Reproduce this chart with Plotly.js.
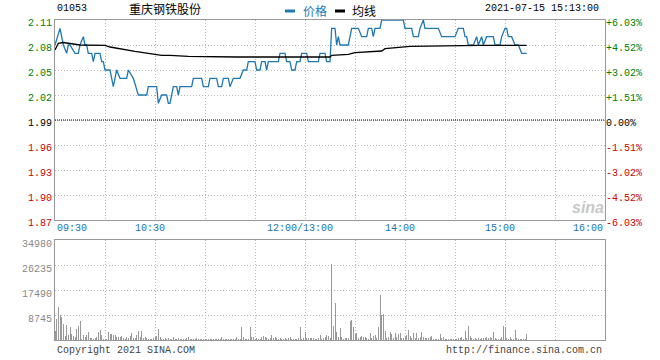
<!DOCTYPE html>
<html><head><meta charset="utf-8">
<script src="https://cdn.plot.ly/plotly-3.0.1.min.js"></script>
<style>html,body{margin:0;padding:0;background:#fff}#chart{width:660px;height:360px}</style>
</head><body><div id="chart"></div>
<script>
const stockCode = '01053';
const stockName = '重庆钢铁股份';
const stamp = '2021-07-15 15:13:00';
const prevClose = 1.99;
const legendNames = ['价格', '均线'];

const priceTimes = ['09:30','09:33','09:35','09:37','09:38','09:39','09:42','09:44','09:45','09:47','09:48','09:49','09:50','09:52','09:53','09:54','09:57','09:58','09:59','10:00','10:03','10:05','10:07','10:09','10:13','10:14','10:17','10:20','10:25','10:26','10:31','10:32','10:34','10:37','10:38','10:39','10:41','10:43','10:44','10:45','10:52','10:53','10:58','10:59','11:02','11:03','11:07','11:08','11:10','11:11','11:14','11:15','11:17','11:21','11:23','11:25','11:26','11:30','11:31','11:33','11:34','11:36','11:37','11:38','11:44','11:45','11:48','11:49','11:51','11:52','11:54','11:55','11:57','11:58','13:01','13:02','13:08','13:09','13:12','13:13','13:15','13:16','13:18','13:19','13:20','13:21','13:26','13:28','13:32','13:34','13:37','13:38','13:40','13:41','13:42','13:45','13:46','13:59','14:00','14:04','14:05','14:08','14:09','14:11','14:12','14:20','14:22','14:30','14:32','14:35','14:36','14:37','14:38','14:41','14:43','14:44','14:46','14:47','14:49','14:53','14:54','14:57','14:58','15:00','15:01','15:02','15:04','15:06','15:08','15:10','15:13'];
const priceValues = [2.08,2.10,2.08,2.07,2.08,2.08,2.07,2.07,2.08,2.09,2.08,2.08,2.07,2.07,2.06,2.07,2.07,2.06,2.06,2.05,2.05,2.03,2.05,2.04,2.04,2.05,2.04,2.02,2.02,2.03,2.03,2.01,2.02,2.02,2.01,2.01,2.03,2.03,2.02,2.03,2.03,2.04,2.04,2.03,2.03,2.04,2.04,2.03,2.03,2.04,2.04,2.03,2.04,2.04,2.05,2.05,2.06,2.06,2.05,2.05,2.06,2.06,2.05,2.06,2.06,2.07,2.07,2.06,2.06,2.05,2.05,2.06,2.06,2.07,2.07,2.06,2.06,2.07,2.07,2.06,2.06,2.10,2.10,2.08,2.09,2.08,2.08,2.10,2.10,2.09,2.09,2.10,2.10,2.09,2.10,2.10,2.11,2.11,2.10,2.10,2.09,2.09,2.10,2.11,2.10,2.10,2.09,2.09,2.10,2.10,2.09,2.09,2.08,2.08,2.09,2.08,2.09,2.08,2.09,2.09,2.08,2.08,2.09,2.10,2.10,2.09,2.09,2.08,2.08,2.07,2.07];

const avgTimes = ['09:30','09:32','09:35','09:45','10:00','10:03','10:18','10:31','10:34','10:39','10:50','11:19','11:39','11:40','13:15','13:16','13:26','13:30','13:46','13:48','14:00','14:03','14:45','15:13'];
const avgValues = [2.074,2.082,2.083,2.080,2.0796,2.0776,2.0724,2.0688,2.0676,2.0676,2.0664,2.0656,2.0656,2.0648,2.0656,2.0676,2.0688,2.0708,2.0728,2.0756,2.0776,2.0784,2.0796,2.0796];

// one volume bar per trading minute starting 09:30 (afternoon continues at 13:00)
const volumes = [
3000,7350,11660,8745,8160,5600,1400,5250,1750,4430,
2100,1400,930,3730,4900,6650,230,1750,1170,1630,
2800,580,580,230,580,1170,2800,3500,1750,470,
230,470,2680,2100,2100,1750,1750,1170,930,930,
1400,580,230,1170,580,1400,2330,820,580,1630,
3260,930,3030,820,930,580,230,350,350,580,
1170,1400,3730,1170,500,300,800,400,600,300,
500,900,300,400,700,300,500,400,200,600,
1170,300,200,500,400,600,300,200,400,300,
200,300,200,200,300,200,400,300,200,300,
930,350,200,300,400,300,200,500,300,1170,
350,470,4660,930,350,470,350,4660,1170,930,
470,700,350,470,1170,1400,1170,580,470,580,
1750,580,930,700,470,580,350,470,700,350,
580,1170,470,350,470,350,580,4660,470,820,
2900,820,820,820,580,580,350,350,580,1750,
350,580,1170,1750,1400,580,26470,4900,12830,2680,
1170,4080,930,350,820,820,820,6650,7000,4660,
2100,2330,580,1170,1520,930,1050,580,350,2330,
820,1400,1750,580,4660,15740,8745,9100,3150,580,
1170,2680,2100,820,2450,1170,1980,2330,580,580,
1400,1750,3500,1400,580,2450,820,2450,820,1170,
2800,1170,820,580,580,1170,1400,350,350,350,
350,2100,580,1050,350,350,350,350,350,350,
350,350,820,580,1170,350,3150,580,5000,1400,
580,350,820,350,580,350,820,580,820,1170,
580,1170,580,2680,580,350,350,350,1170,4900,
4660,580,350,1050,350,350,3500,580,350,350,
350,350,350,2100];

const priceTicks = [2.11,2.08,2.05,2.02,1.99,1.96,1.93,1.90,1.87];
const priceTickLabels = ['2.11','2.08','2.05','2.02','1.99','1.96','1.93','1.90','1.87'];
const pctTickLabels = ['+6.03%','+4.52%','+3.02%','+1.51%','0.00%','-1.51%','-3.02%','-4.52%','-6.03%'];
const volTicks = [8745,17490,26235,34980];
const volTickLabels = ['8745','17490','26235','34980'];
const timeLabels = ['09:30','10:30','12:00/13:00','14:00','15:00','16:00'];
const timeLabelAt = ['09:30','10:30','13:00','14:00','15:00','16:00'];
const sessionOpen = '09:30', sessionEnd = '16:00';

function toMinute(t){
  const [h,m] = t.split(':').map(Number);
  const v = h*60+m;
  return v >= 780 ? 150 + (v-780) : v - 570;
}
const GREEN='#008000', RED='#cc0000', BLACK='#000000';
function colorFor(p){ return Math.abs(p-prevClose)<1e-9 ? BLACK : (p>prevClose ? GREEN : RED); }
const pct = p => (p/prevClose-1)*100;

const xMin = toMinute(sessionOpen), xMax = toMinute(sessionEnd);
const px = priceTimes.map(toMinute);
const ax = avgTimes.map(toMinute);
const vx = volumes.map((v,i)=>i);

const mono = 'Liberation Mono, DejaVu Sans Mono, monospace';
const cjk = 'Noto Sans CJK SC, sans-serif';

const traces = [
  {x:px, y:priceValues, type:'scatter', mode:'lines', line:{color:'#1f78b4', width:1.3}, xaxis:'x', yaxis:'y', hoverinfo:'skip'},
  {x:ax, y:avgValues, type:'scatter', mode:'lines', line:{color:'#000', width:1.3}, xaxis:'x', yaxis:'y', hoverinfo:'skip'},
  {x:px, y:priceValues.map(pct), type:'scatter', mode:'lines', line:{color:'rgba(0,0,0,0)', width:0}, xaxis:'x', yaxis:'y2', hoverinfo:'skip'},
  {x:vx, y:volumes, type:'bar', width:0.6, marker:{color:'#999', line:{width:0}}, xaxis:'x2', yaxis:'y3', hoverinfo:'skip'}
];

const gridDash = '1px,2px';
const xCommon = {range:[xMin,xMax], tick0:0, dtick:30, showgrid:true, gridcolor:'#b8b8b8', griddash:gridDash, gridwidth:1,
  showticklabels:false, ticks:'', showline:true, mirror:true, linecolor:'#999', linewidth:1, zeroline:false, fixedrange:true};

const annotations = [];
timeLabels.forEach((t,i)=>{
  const last = i===timeLabels.length-1, first = i===0;
  annotations.push({xref:'x', yref:'y domain', x:toMinute(timeLabelAt[i]), y:0, yanchor:'top', yshift:-1,
    xanchor: first?'left':(last?'right':'center'), xshift: (first||last)?0:-5,
    text:t, showarrow:false, font:{family:mono, size:10, color:'#1b74ad'}});
});
annotations.push({xref:'paper', yref:'paper', x:0, y:(340-9)/320, xanchor:'left', yanchor:'middle', text:stockCode, showarrow:false, font:{family:mono,size:10,color:'#000'}});
annotations.push({xref:'paper', yref:'paper', x:(165-55)/550, y:(340-9)/320, xanchor:'center', yanchor:'middle', text:stockName, showarrow:false, font:{family:cjk,size:12,color:'#000'}});
annotations.push({xref:'paper', yref:'paper', x:(301-55)/550, y:(340-10)/320, xanchor:'left', yanchor:'middle', text:legendNames[0], showarrow:false, font:{family:cjk,size:12,color:'#1f78b4'}});
annotations.push({xref:'paper', yref:'paper', x:(350-55)/550, y:(340-10)/320, xanchor:'left', yanchor:'middle', text:legendNames[1], showarrow:false, font:{family:cjk,size:12,color:'#000'}});
annotations.push({xref:'paper', yref:'paper', x:(601-55)/550, y:(340-9)/320, xanchor:'right', yanchor:'middle', text:stamp, showarrow:false, font:{family:mono,size:10,color:'#000'}});
annotations.push({xref:'paper', yref:'paper', x:0, y:(340-350)/320, xanchor:'left', yanchor:'middle', text:'Copyright 2021 SINA.COM', showarrow:false, font:{family:mono,size:10,color:'#444'}});
annotations.push({xref:'paper', yref:'paper', x:(604-55)/550, y:(340-350)/320, xanchor:'right', yanchor:'middle', text:'http://finance.sina.com.cn', showarrow:false, font:{family:mono,size:10,color:'#444'}});
annotations.push({xref:'paper', yref:'paper', x:(588-55)/550, y:(340-207)/320, xanchor:'center', yanchor:'middle', text:'<b><i>sina</i></b>', showarrow:false, font:{family:'Liberation Sans, sans-serif',size:16,color:'#c8c8c8'}});

const layout = {
  width:660, height:360, margin:{l:55, r:55, t:20, b:20}, paper_bgcolor:'#fff', plot_bgcolor:'#fff', showlegend:false,
  xaxis: Object.assign({}, xCommon, {anchor:'y'}),
  xaxis2: Object.assign({}, xCommon, {anchor:'y3', matches:'x'}),
  yaxis: {domain:[120/320,1], range:[priceTicks[priceTicks.length-1], priceTicks[0]], tickmode:'array', tickvals:priceTicks,
    ticktext: priceTicks.map((p,i)=>`<span style="color:${colorFor(p)}">${priceTickLabels[i]}</span>`),
    showgrid:true, gridcolor:'#b8b8b8', griddash:gridDash, ticks:'', ticklabelshift:2, ticklabelstandoff:0,
    tickfont:{family:mono,size:10}, showline:true, mirror:true, linecolor:'#999', linewidth:1, zeroline:false, fixedrange:true},
  yaxis2: {overlaying:'y', side:'right', anchor:'x', range:[pct(priceTicks[priceTicks.length-1]), pct(priceTicks[0])], tickmode:'array',
    tickvals: priceTicks.map(pct), ticktext: priceTicks.map((p,i)=>`<span style="color:${colorFor(p)}">${pctTickLabels[i]}</span>`),
    showgrid:false, ticks:'', ticklabelshift:2, ticklabelstandoff:0, tickfont:{family:mono,size:10}, zeroline:false, showline:false, fixedrange:true},
  yaxis3: {domain:[0,100/320], range:[0, volTicks[volTicks.length-1]], tickmode:'array', tickvals:volTicks, ticktext:volTickLabels,
    showgrid:true, gridcolor:'#b8b8b8', griddash:gridDash, ticks:'', ticklabelshift:3, ticklabelstandoff:0,
    tickfont:{family:mono,size:10,color:'#888'}, showline:true, mirror:true, linecolor:'#999', linewidth:1, zeroline:false, fixedrange:true, anchor:'x2'},
  shapes: [
    {type:'line', xref:'x domain', yref:'y', x0:0, x1:1, y0:prevClose, y1:prevClose, line:{color:'#000', width:1, dash:'1px,1px'}},
    {type:'rect', xref:'paper', yref:'paper', x0:(285-55)/550, x1:(295-55)/550, y0:(340-12.5)/320, y1:(340-9.5)/320, fillcolor:'#1f78b4', line:{width:0}},
    {type:'rect', xref:'paper', yref:'paper', x0:(335-55)/550, x1:(345-55)/550, y0:(340-12.5)/320, y1:(340-9.5)/320, fillcolor:'#000', line:{width:0}}
  ],
  annotations: annotations,
  bargap:0
};
Plotly.newPlot('chart', traces, layout, {staticPlot:true, displayModeBar:false});
</script></body></html>
